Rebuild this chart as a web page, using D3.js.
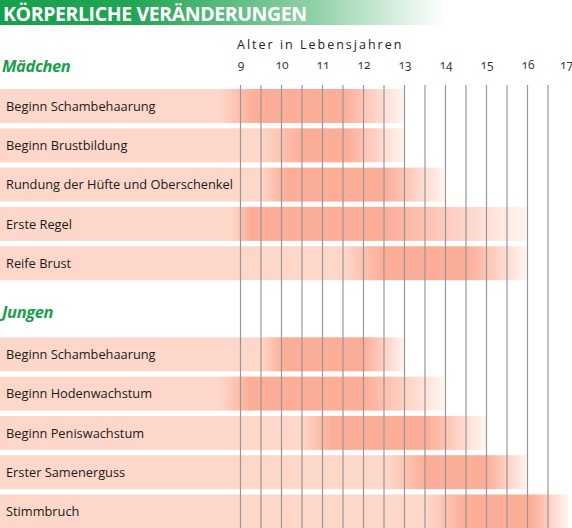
<!DOCTYPE html>
<html><head><meta charset="utf-8">
<script src="https://cdn.jsdelivr.net/npm/d3@7"></script>
<style>
html,body{margin:0;padding:0;background:#fff;}
svg{display:block;font-family:"Open Sans",sans-serif;}
</style></head>
<body>
<svg id="chart" width="572" height="528"></svg>
<script>
// ---- data ----
const title = "KÖRPERLICHE VERÄNDERUNGEN";
const axisTitle = "Alter in Lebensjahren";
const ageTicks = [9, 10, 11, 12, 13, 14, 15, 16, 17];

const girlsTitle = "Mädchen";
const girlsLabels = ["Beginn Schambehaarung", "Beginn Brustbildung", "Rundung der Hüfte und Oberschenkel", "Erste Regel", "Reife Brust"];
const girlsFadeIn    = [8.5, 9.5, 9.5, 8.8, 11.5];
const girlsDarkStart = [9.35, 10.5, 10.1, 9.25, 12.5];
const girlsDarkEnd   = [11.5, 11.6, 12.5, 12.5, 14.5];
const girlsEnd       = [13, 13, 14, 16, 16];

const boysTitle = "Jungen";
const boysLabels = ["Beginn Schambehaarung", "Beginn Hodenwachstum", "Beginn Peniswachstum", "Erster Samenerguss", "Stimmbruch"];
const boysFadeIn    = [9.5, 8.5, 10.45, 12.55, 13.55];
const boysDarkStart = [10.05, 9.25, 11.25, 13.55, 14.5];
const boysDarkEnd   = [12.0, 12.0, 13.55, 15.0, 16.1];
const boysEnd       = [13, 14, 15, 16, 17];

// ---- drawing ----
const svg = d3.select("#chart");
const defs = svg.append("defs");
const LIGHT = "#fdd7ca", DARK = "#fcad97", FADE = "#fff5f1";

const x = d3.scaleLinear().domain([9, 17]).range([240.5, 568.5]);

// title bar
const tg = defs.append("linearGradient").attr("id", "titleGrad")
  .attr("gradientUnits", "userSpaceOnUse").attr("x1", 0).attr("x2", 445).attr("y1", 0).attr("y2", 0);
tg.append("stop").attr("offset", 0).attr("stop-color", "#16a04c");
tg.append("stop").attr("offset", 0.3).attr("stop-color", "#22a555");
tg.append("stop").attr("offset", 0.7).attr("stop-color", "#8fd0a6");
tg.append("stop").attr("offset", 1).attr("stop-color", "#ffffff");
svg.append("rect").attr("x", 0).attr("y", 0).attr("width", 445).attr("height", 25).attr("fill", "url(#titleGrad)");
svg.append("text").attr("x", 3).attr("y", 20.5).text(title)
  .attr("fill", "#fff").attr("font-size", 19.5).attr("font-weight", 700).attr("letter-spacing", -0.4);

// axis title and tick labels
svg.append("text").attr("x", 237).attr("y", 49).text(axisTitle)
  .attr("fill", "#222").attr("font-size", 12.5).attr("letter-spacing", 2.0);

const axis = d3.axisTop(x).tickValues(ageTicks).tickSize(0).tickPadding(0).tickFormat(d3.format("d"));
const ag = svg.append("g").attr("transform", "translate(0,69)").call(axis);
ag.select(".domain").remove();
ag.selectAll("text").attr("font-family", "Open Sans").attr("font-size", 12).attr("fill", "#333")
  .attr("dy", 0).style("font-variant-numeric", "oldstyle-nums");
ag.selectAll(".tick").filter(d => d === 17).select("text").attr("text-anchor", "end").attr("x", 4);

function group(name, labels, fadeIn, darkStart, darkEnd, ends, y0, titleY, gid) {
  svg.append("text").attr("x", 2).attr("y", titleY).text(name)
    .attr("fill", "#1aa04c").attr("font-size", 16.5).attr("font-weight", 700).attr("font-style", "italic")
    .attr("letter-spacing", -0.4);
  const y = d3.scaleBand().domain(labels).range([y0, y0 + 191.2]).paddingInner(0.135).paddingOuter(0);
  labels.forEach((lab, i) => {
    const ex = x(ends[i]);
    const g = defs.append("linearGradient").attr("id", gid + i)
      .attr("gradientUnits", "userSpaceOnUse").attr("x1", 0).attr("x2", ex).attr("y1", 0).attr("y2", 0);
    const off = v => Math.max(0, Math.min(1, x(v) / ex));
    g.append("stop").attr("offset", 0).attr("stop-color", LIGHT);
    g.append("stop").attr("offset", off(fadeIn[i])).attr("stop-color", LIGHT);
    g.append("stop").attr("offset", off(darkStart[i])).attr("stop-color", DARK);
    g.append("stop").attr("offset", off(darkEnd[i])).attr("stop-color", DARK);
    g.append("stop").attr("offset", 1).attr("stop-color", FADE);
  });
  svg.append("g").selectAll("rect").data(labels).join("rect")
    .attr("x", 0).attr("y", d => y(d))
    .attr("width", (d, i) => x(ends[i]))
    .attr("height", y.bandwidth())
    .attr("fill", (d, i) => `url(#${gid}${i})`);
  return y;
}

const yG = group(girlsTitle, girlsLabels, girlsFadeIn, girlsDarkStart, girlsDarkEnd, girlsEnd, 89, 72, "gg");
const yB = group(boysTitle, boysLabels, boysFadeIn, boysDarkStart, boysDarkEnd, boysEnd, 337.3, 318, "bg");

// grid lines (half years)
const grid = d3.range(9, 17, 0.5);
svg.append("g").selectAll("line").data(grid).join("line")
  .attr("x1", d => x(d)).attr("x2", d => x(d))
  .attr("y1", 85).attr("y2", 528)
  .attr("stroke", "#979797").attr("stroke-width", 1.2);

// row labels
function labels(lbls, y) {
  svg.append("g").selectAll("text").data(lbls).join("text")
    .attr("x", 6).attr("y", d => y(d) + y.bandwidth() / 2 + 4.6)
    .text(d => d).attr("fill", "#1a1a1a").attr("font-size", 12.8);
}
labels(girlsLabels, yG);
labels(boysLabels, yB);
</script>
</body></html>
